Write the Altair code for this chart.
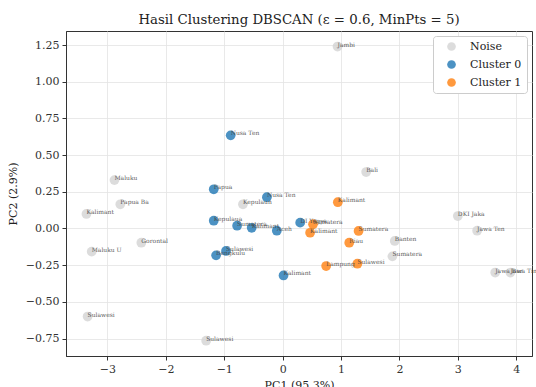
import altair as alt
import pandas as pd

# Noise points
noise_names = ["Jambi", "Bali", "Maluku", "Papua Ba", "Kalimant", "Gorontal", "Maluku U",
               "Kepulaun", "Banten", "Sumatera", "DKI Jaka", "Jawa Ten", "Jawa Bar",
               "Jawa Tim", "Sulawesi", "Sulawesi"]
noise_pc1 = [0.94, 1.43, -2.88, -2.78, -3.36, -2.42, -3.27, -0.68, 1.92, 1.88, 3.00, 3.33,
             3.64, 3.90, -3.34, -1.31]
noise_pc2 = [1.24, 0.385, 0.33, 0.165, 0.099, -0.097, -0.158, 0.165, -0.085, -0.19, 0.085,
             -0.015, -0.30, -0.30, -0.60, -0.765]

# Cluster 0
c0_names = ["Nusa Ten", "Papua", "Nusa Ten", "Kepulaua", "Sumatera", "Kalimant", "Aceh",
            "DI Yogya", "Sulawesi", "Bengkulu", "Kalimant"]
c0_pc1 = [-0.89, -1.18, -0.27, -1.18, -0.78, -0.53, -0.10, 0.30, -0.97, -1.14, 0.015]
c0_pc2 = [0.635, 0.267, 0.213, 0.053, 0.019, 0.005, -0.015, 0.04, -0.153, -0.183, -0.32]

# Cluster 1
c1_names = ["Kalimant", "Sumatera", "Kalimant", "Sumatera", "Riau", "Lampung", "Sulawesi"]
c1_pc1 = [0.945, 0.52, 0.47, 1.30, 1.14, 0.745, 1.28]
c1_pc2 = [0.179, 0.029, -0.029, -0.017, -0.097, -0.256, -0.24]

groups = ["Noise", "Cluster 0", "Cluster 1"]
colors = ["#d3d3d3", "#1f77b4", "#ff7f0e"]

rows = []
for g, names, xs, ys in [("Noise", noise_names, noise_pc1, noise_pc2),
                         ("Cluster 0", c0_names, c0_pc1, c0_pc2),
                         ("Cluster 1", c1_names, c1_pc1, c1_pc2)]:
    for n, x, y in zip(names, xs, ys):
        rows.append({"label": n, "PC1": x, "PC2": y, "group": g})
df = pd.DataFrame(rows)

xscale = alt.Scale(domain=[-3.71, 4.27], nice=False, zero=False)
yscale = alt.Scale(domain=[-0.869, 1.346], nice=False, zero=False)

base = alt.Chart(df)

points = base.mark_circle(size=95, opacity=0.8).encode(
    x=alt.X("PC1:Q", scale=xscale,
            axis=alt.Axis(title="PC1 (95.3%)", values=[-3, -2, -1, 0, 1, 2, 3, 4], format="d")),
    y=alt.Y("PC2:Q", scale=yscale,
            axis=alt.Axis(title="PC2 (2.9%)",
                          values=[-0.75, -0.5, -0.25, 0, 0.25, 0.5, 0.75, 1.0, 1.25],
                          format=".2f")),
    color=alt.Color("group:N", scale=alt.Scale(domain=groups, range=colors),
                    legend=alt.Legend(title=None, orient="top-right", offset=5,
                                      fillColor="white", strokeColor="#cccccc",
                                      cornerRadius=3, padding=5,
                                      symbolSize=75, symbolOpacity=0.8, symbolOffset=8,
                                      labelOffset=13,
                                      labelFontSize=11, labelColor="#222",
                                      rowPadding=6, symbolStrokeWidth=0)),
)

labels = base.mark_text(align="left", baseline="middle", dx=0, dy=-2,
                        fontSize=6, color="#444", opacity=0.85, font="DejaVu Serif").encode(
    x=alt.X("PC1:Q", scale=xscale),
    y=alt.Y("PC2:Q", scale=yscale),
    text="label:N",
)

chart = alt.layer(points, labels).properties(
    width=466, height=325,
    title=alt.TitleParams("Hasil Clustering DBSCAN (ε = 0.6, MinPts = 5)",
                          fontSize=13.3, fontWeight="normal", color="#222",
                          font="DejaVu Serif", offset=5),
    autosize=alt.AutoSizeParams(type="none"),
    padding={"left": 66, "top": 31, "right": 4, "bottom": 31},
).configure(font="DejaVu Serif").configure_view(
    stroke="#333", strokeWidth=1
).configure_axis(
    grid=True, gridColor="#e3e3e3", gridWidth=0.8,
    domainColor="#333", tickColor="#333", tickSize=4,
    labelFontSize=11, labelColor="#333", labelFont="DejaVu Serif",
    titleFontSize=11, titleFontWeight="normal", titleColor="#222", titleFont="DejaVu Serif",
    labelPadding=3,
).configure_axisX(titlePadding=5).configure_axisY(titlePadding=7)

chart.save("out.html", embed_options={"renderer": "svg", "actions": False})
